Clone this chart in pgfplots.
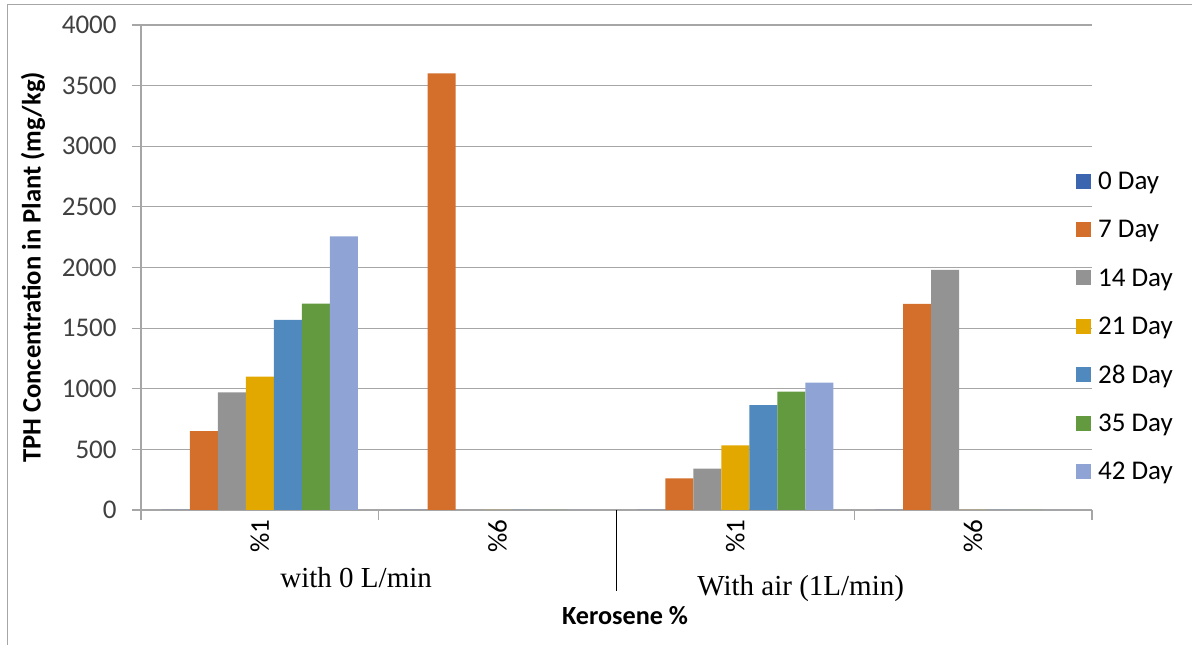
\documentclass[border=0pt]{standalone}
\usepackage{pgfplots}
\pgfplotsset{compat=1.18}
\usepackage{pgfplotstable}
\usepackage{fontspec}
\setmainfont{Carlito}
\newfontfamily\serifrm{Liberation Serif}
\definecolor{c0}{HTML}{3C65B0}
\definecolor{c7}{HTML}{D36F2B}
\definecolor{c14}{HTML}{939393}
\definecolor{c21}{HTML}{E2A800}
\definecolor{c28}{HTML}{4F89BD}
\definecolor{c35}{HTML}{649A3F}
\definecolor{c42}{HTML}{8FA4D4}
\definecolor{gridgray}{HTML}{A6A6A6}
\definecolor{ticktext}{HTML}{404040}

\pgfplotstableread{
x d0 d7 d14 d21 d28 d35 d42
0 0 650 970 1100 1568 1702 2257
1 0 3600 0 0 0 0 0
2 0 260 342 532 865 977 1050
3 0 1700 1980 0 0 0 0
}\datatable

\pgfplotsset{
  mybar/.style={fill=#1, draw=none,
    legend image code/.code={\fill[fill=#1, draw=none] (0bp,0.5bp) rectangle (7.5bp,8bp);}},
}

\begin{document}
\begin{tikzpicture}
\path[use as bounding box] (0bp,0bp) rectangle (596bp,322.5bp);
\draw[gridgray, line width=0.6bp] (3.65bp,0bp) -- (3.65bp,320.15bp) -- (596bp,320.15bp);
\begin{axis}[
  at={(70.5bp,67.5bp)}, anchor=south west,
  scale only axis, width=475.5bp, height=242.5bp,
  clip=false,
  ybar=0pt, bar width=14bp,
  xmin=-0.5, xmax=3.5, ymin=0, ymax=4000,
  ytick={0,500,...,4000},
  xtick={0,1,2,3}, xticklabels={\%1,\%6,\%1,\%6},
  minor xtick={-0.5,0.5,2.5,3.5},
  axis x line*=bottom, axis y line*=left,
  axis line style={gridgray, line width=0.6bp, -},
  ymajorgrids, grid style={gridgray, line width=0.6bp},
  tick align=outside,
  major tick length=4.5bp, minor tick length=5bp,
  major x tick style={draw=none},
  minor x tick style={gridgray, line width=0.6bp},
  major y tick style={gridgray, line width=0.6bp},
  /pgf/number format/.cd, 1000 sep={}, assume math mode=true, /pgfplots/.cd,
  tick label style={font=\fontsize{13.5bp}{16bp}\selectfont},
  yticklabel style={inner sep=0pt, text=ticktext},
  yticklabel shift=7.5bp,
  xticklabel style={rotate=90, anchor=east, inner sep=0pt, text=black},
  ylabel={TPH Concentration in Plant (mg/kg)},
  ylabel style={at={(axis description cs:-0.1136,0.5)}, anchor=center, font=\bfseries\fontsize{13.3bp}{16bp}\selectfont},
  xlabel={Kerosene \%},
  xlabel style={at={(axis description cs:0.509,-0.2371)}, anchor=base, font=\bfseries\fontsize{13.1bp}{16bp}\selectfont},
  legend style={at={(axis description cs:0.9829,0.7027)}, anchor=north west,
    draw=none, fill=none, inner sep=0pt, row sep=10.7bp, column sep=3.5bp,
    font=\fontsize{13.5bp}{16bp}\selectfont,
    nodes={inner sep=0pt, text height=10bp, text depth=3.5bp, anchor=base west}},
  legend cell align=left,
]
\addplot[mybar=c0] table[x=x,y=d0] {\datatable};
\addplot[mybar=c7] table[x=x,y=d7] {\datatable};
\addplot[mybar=c14] table[x=x,y=d14] {\datatable};
\addplot[mybar=c21] table[x=x,y=d21] {\datatable};
\addplot[mybar=c28] table[x=x,y=d28] {\datatable};
\addplot[mybar=c35] table[x=x,y=d35] {\datatable};
\addplot[mybar=c42] table[x=x,y=d42] {\datatable};
\legend{0 Day,7 Day,14 Day,21 Day,28 Day,35 Day,42 Day}
\draw[black, line width=0.6bp] (axis cs:1.5,0) -- ++(0bp,-40.5bp);
\node[anchor=base west, inner sep=0pt, font=\serifrm\fontsize{14.5bp}{17bp}\selectfont]
  at (axis description cs:0.1462,-0.1608) {with 0 L/min};
\node[anchor=base west, inner sep=0pt, font=\serifrm\fontsize{14.5bp}{17bp}\selectfont]
  at (axis description cs:0.5846,-0.1753) {With air (1L/min)};
\end{axis}
\end{tikzpicture}
\end{document}
